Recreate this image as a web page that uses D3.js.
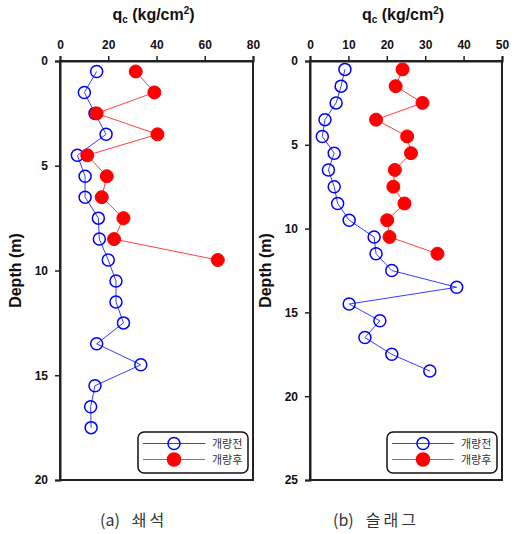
<!DOCTYPE html>
<html><head><meta charset="utf-8">
<script src="https://cdn.jsdelivr.net/npm/d3@7"></script>
<style>body{margin:0;background:#fff}svg{display:block}</style>
</head><body>
<script>
// Panel (a) 쇄석
const depthA_before = [0.5,1.5,2.5,3.5,4.5,5.5,6.5,7.5,8.5,9.5,10.5,11.5,12.5,13.5,14.5,15.5,16.5,17.5];
const qcA_before = [15.2,10.1,14.5,19.1,7.2,10.4,10.4,15.9,16.3,20,23.2,23.2,26.3,15.2,33.5,14.5,12.7,12.9];
const depthA_after = [0.5,1.5,2.5,3.5,4.5,5.5,6.5,7.5,8.5,9.5];
const qcA_after = [31.4,39.1,15.2,40.4,11.3,19.4,17.3,26.3,22.4,65.4];
// Panel (b) 슬래그
const depthB_before = [0.5,1.5,2.5,3.5,4.5,5.5,6.5,7.5,8.5,9.5,10.5,11.5,12.5,13.5,14.5,15.5,16.5,17.5,18.5];
const qcB_before = [9.1,8.1,6.8,3.9,3.2,6.3,4.8,6.3,7.2,10.2,16.7,17.2,21.3,38.2,10.2,18.2,14.3,21.3,31.2];
const depthB_after = [0.5,1.5,2.5,3.5,4.5,5.5,6.5,7.5,8.5,9.5,10.5,11.5];
const qcB_after = [24.1,22.3,29.3,17.2,25.3,26.3,22.1,21.7,24.6,20.1,20.7,33.2];
// Axes
const xTicksA = [0,20,40,60,80];
const yTicksA = [0,5,10,15,20];
const xTicksB = [0,10,20,30,40,50];
const yTicksB = [0,5,10,15,20,25];
const legendLabels = ["개량전","개량후"];
const panelTitles = [["(a)","쇄석"],["(b)","슬래그"]];

const svg = d3.select("body").append("svg").attr("width",517).attr("height",534);

const panels = [
  {x0:60,x1:253,xmax:80,ymax:20,xt:xTicksA,yt:yTicksA,bd:depthA_before,bq:qcA_before,ad:depthA_after,aq:qcA_after,title:panelTitles[0],tx:100,lgx:138},
  {x0:310,x1:502,xmax:50,ymax:25,xt:xTicksB,yt:yTicksB,bd:depthB_before,bq:qcB_before,ad:depthB_after,aq:qcB_after,title:panelTitles[1],tx:333,lgx:387}
];
const y0=61, y1=480;
const font = "'Liberation Sans', Arial, sans-serif";

panels.forEach(p=>{
  const x = d3.scaleLinear().domain([0,p.xmax]).range([p.x0,p.x1]);
  const y = d3.scaleLinear().domain([0,p.ymax]).range([y0,y1]);
  const g = svg.append("g");
  g.append("rect").attr("x",p.x0).attr("y",y0).attr("width",p.x1-p.x0).attr("height",y1-y0)
    .attr("fill","none").attr("stroke","#222").attr("stroke-width",2);
  const xa = g.append("g").attr("transform",`translate(0,${y0})`)
    .call(d3.axisTop(x).tickValues(p.xt).tickSize(5).tickPadding(7).tickFormat(d3.format("d")));
  const ya = g.append("g").attr("transform",`translate(${p.x0},0)`)
    .call(d3.axisLeft(y).tickValues(p.yt).tickSize(5).tickPadding(7).tickFormat(d3.format("d")));
  [xa,ya].forEach(a=>{
    a.select(".domain").attr("stroke","#222").attr("stroke-width",2);
    a.selectAll(".tick line").attr("stroke","#222").attr("stroke-width",1.5);
    a.selectAll(".tick text").attr("fill","#111").style("font-family",font).style("font-size","12px").style("font-weight","bold");
  });
  const t = g.append("text").attr("x",(p.x0+p.x1)/2-3).attr("y",20).attr("text-anchor","middle")
    .style("font-family",font).style("font-size","16px").style("font-weight","bold").attr("fill","#111");
  t.append("tspan").text("q");
  t.append("tspan").text("c").attr("dy",3).style("font-size","10px");
  t.append("tspan").text(" (kg/cm").attr("dy",-3);
  t.append("tspan").text("2").attr("dy",-6).style("font-size","10px");
  t.append("tspan").text(")").attr("dy",6);
  g.append("text").attr("transform",`translate(${p.x0-39},${(y0+y1)/2}) rotate(-90)`).attr("text-anchor","middle")
    .style("font-family",font).style("font-size","16px").style("font-weight","bold").attr("fill","#111").text("Depth (m)");
  const line = d3.line().x(d=>x(d[0])).y(d=>y(d[1]));
  const bData = p.bq.map((q,i)=>[q,p.bd[i]]);
  const aData = p.aq.map((q,i)=>[q,p.ad[i]]);
  g.append("path").datum(bData).attr("d",line).attr("fill","none").attr("stroke","#3b3bff").attr("stroke-width",1);
  g.append("path").datum(aData).attr("d",line).attr("fill","none").attr("stroke","#ff4040").attr("stroke-width",1);
  g.selectAll(".b").data(bData).enter().append("circle").attr("cx",d=>x(d[0])).attr("cy",d=>y(d[1])).attr("r",6)
    .attr("fill","none").attr("stroke","#0000ff").attr("stroke-width",1.5);
  g.selectAll(".a").data(aData).enter().append("circle").attr("cx",d=>x(d[0])).attr("cy",d=>y(d[1])).attr("r",6.5)
    .attr("fill","#ff0000").attr("stroke","#ff0000").attr("stroke-width",1);
  const lg = g.append("g").attr("transform",`translate(${p.lgx},432)`);
  lg.append("rect").attr("width",110).attr("height",41).attr("rx",6).attr("fill","#fff").attr("stroke","#111").attr("stroke-width",1.5);
  [0,1].forEach(i=>{
    const yy = 11.5+i*16;
    lg.append("line").attr("x1",5).attr("x2",67).attr("y1",yy).attr("y2",yy).attr("stroke",i?"#ff4040":"#3b3bff").attr("stroke-width",1);
    lg.append("circle").attr("cx",36).attr("cy",yy).attr("r",i?6.5:6)
      .attr("fill",i?"#ff0000":"none").attr("stroke",i?"#ff0000":"#0000ff").attr("stroke-width",1.5);
    lg.append("text").attr("x",74).attr("y",yy+4).text(legendLabels[i])
      .style("font-family","'Noto Sans CJK KR', sans-serif").style("font-size","11px").attr("fill","#333");
  });
  const pt = svg.append("text").attr("x",p.tx).attr("y",526)
    .style("font-family","'Noto Sans CJK KR', sans-serif").style("font-size","16px").attr("fill","#333");
  pt.append("tspan").text(p.title[0]);
  pt.append("tspan").attr("dx",12).style("letter-spacing","3px").text(p.title[1]);
});
</script>
</body></html>
